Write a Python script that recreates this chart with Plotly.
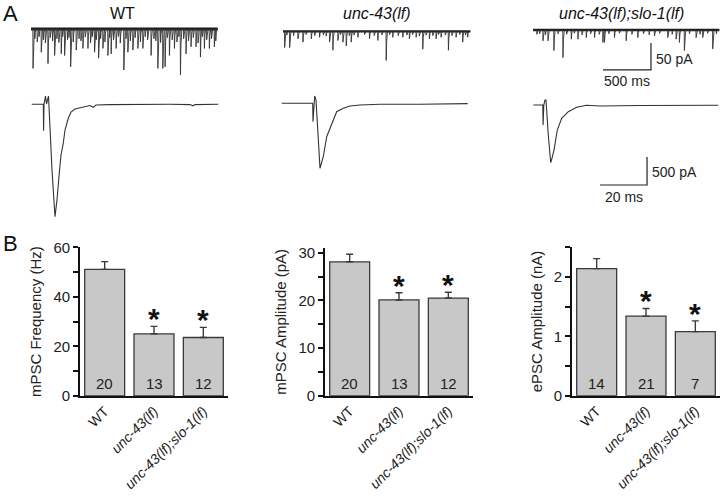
import plotly.graph_objects as go

W, H = 720, 496
FONT = "Arial, Liberation Sans, sans-serif"

# ---------------- Panel B data ----------------
genotypes = ["WT", "<i>unc-43(lf)</i>", "<i>unc-43(lf);slo-1(lf)</i>"]
mpsc_freq = [51.1, 25.1, 23.6]
mpsc_freq_sem = [3.1, 3.0, 4.1]
mpsc_amp = [28.1, 20.1, 20.5]
mpsc_amp_sem = [1.6, 1.5, 1.2]
epsc_amp = [2.14, 1.34, 1.08]
epsc_amp_sem = [0.17, 0.13, 0.18]
n_mpsc = [20, 13, 12]
n_epsc = [14, 21, 7]
significant = [False, True, True]

# ---------------- Panel A data ----------------
# spontaneous recordings: event times (ms) and amplitudes (pA)
wt_ev_t = [21, 107, 177, 246, 315, 350, 413, 471, 541, 593, 662, 704, 749, 801, 835, 887,
           967, 1009, 1061, 1113, 1165, 1251, 1321, 1373, 1397, 1442, 1494, 1557, 1615,
           1667, 1719, 1765, 1806, 1858, 1910]
wt_ev_a = [73, 43, 64, 49, 46, 49, 70, 39, 36, 36, 43, 54, 36, 49, 46, 36,
           76, 43, 39, 36, 36, 49, 73, 73, 70, 49, 36, 85, 46,
           33, 33, 52, 36, 36, 33]
wt_small_t = [40, 65, 85, 130, 150, 200, 225, 270, 290, 330, 380, 395, 440, 500, 520, 565,
              620, 640, 680, 725, 770, 820, 860, 910, 930, 990, 1035, 1085, 1140, 1190,
              1215, 1280, 1300, 1350, 1420, 1470, 1520, 1540, 1590, 1640, 1690, 1740,
              1785, 1830, 1880, 1925]
wt_small_a = [18, 24, 14, 20, 26, 16, 22, 18, 25, 14, 20, 16, 24, 18, 22, 15,
              26, 14, 20, 18, 24, 16, 20, 14, 26, 18, 22, 16, 24, 14,
              20, 18, 22, 25, 16, 20, 24, 14, 18, 22, 16, 26, 14, 20, 18, 22]
wt_end = 1945

unc_ev_t = [17, 69, 156, 208, 295, 381, 485, 520, 572, 624, 659, 711, 780, 901, 988,
            1075, 1144, 1248, 1317, 1387, 1456, 1525, 1595, 1647, 1723, 1803, 1872, 1924]
unc_ev_a = [30, 30, 14, 20, 14, 11, 20, 35, 17, 20, 27, 20, 11, 14, 17,
            54, 11, 11, 14, 11, 33, 14, 14, 11, 35, 11, 20, 11]
unc_small_t = [40, 110, 240, 330, 420, 450, 600, 690, 740, 850, 950, 1030, 1110, 1200,
               1290, 1350, 1420, 1490, 1560, 1620, 1690, 1760, 1840, 1900]
unc_small_a = [7, 8, 6, 8, 7, 9, 6, 8, 7, 6, 8, 7, 6, 8, 7, 6, 9, 7, 8, 6, 7, 8, 6, 7]
unc_end = 1952

slo_ev_t = [104, 156, 218, 312, 399, 468, 555, 641, 728, 745, 849, 971, 1092, 1265,
            1404, 1491, 1525, 1577, 1699, 1768, 1872]
slo_ev_a = [20, 20, 38, 51, 17, 17, 14, 14, 23, 23, 14, 20, 14, 11,
            14, 17, 23, 38, 14, 14, 35]
slo_small_t = [40, 70, 130, 260, 350, 430, 510, 600, 690, 790, 900, 1030, 1150, 1210,
               1320, 1450, 1630, 1740, 1820, 1910]
slo_small_a = [8, 7, 9, 7, 8, 6, 9, 7, 8, 7, 6, 8, 7, 9, 6, 8, 7, 8, 6, 7]
slo_end = 1941

# evoked responses: time (ms) and current (pA)
wt_epsc_t = [0, 4.94, 5.06, 5.23, 5.87, 6.30, 7.15, 7.57, 8.64, 9.91, 10.76, 11.74, 12.47,
             13.45, 14.17, 15.57, 16.72, 18.42, 20.55, 23.40, 24.81, 26.21, 27.36, 33.32,
             41.83, 50.34, 58.85, 67.36, 68.63, 69.48, 79.40]
wt_epsc_i = [0, 0, -471, 0, 148, 5, 148, -280, -1173, -2007, -1709, -1227, -905,
             -691, -459, -250, -138, -84, -66, -39, -21, -54, -12, -5,
             0, -5, 0, -5, -27, -5, 0]
unc_epsc_t = [0, 13.19, 13.32, 13.62, 14.04, 14.59, 15.23, 16.30, 16.94, 17.70, 19.15,
              21.28, 23.40, 26.21, 29.06, 33.32, 41.83, 58.85, 67.36, 79.14]
unc_epsc_i = [0, 0, -329, 0, 130, 60, -477, -1161, -1066, -954, -597,
              -357, -150, -89, -48, -30, -18, -18, -12, -5]
slo_epsc_t = [0, 4.04, 4.17, 4.47, 4.98, 5.40, 6.38, 7.40, 7.96, 8.81, 10.21, 12.08,
              14.89, 18.47, 22.72, 28.38, 45.40, 62.42, 78.72]
slo_epsc_i = [0, 0, -357, 0, 89, 89, -536, -1030, -947, -804, -447, -238,
              -120, -41, -5, -18, -10, -12, -5]

# scale bars (data units)
sb1_len_t, sb1_len_i = 500, 50      # ms, pA
sb2_len_t, sb2_len_i = 20, 500      # ms, pA
sb1_corner = (1229, -74)
sb2_corner = (48.4, -1429)

# ---------------- helpers ----------------
def spont_xy(ev_t, ev_a, sm_t, sm_a, t_end):
    evs = sorted(list(zip(ev_t, ev_a)) + list(zip(sm_t, sm_a)))
    xs, ys = [0], [0]
    for t, a in evs:
        xs += [t - 2, t, t + 5, t + 14]
        ys += [0, -a, -a * 0.35, 0]
    xs.append(t_end)
    ys.append(0)
    return xs, ys

fig = go.Figure()
layout = dict(width=W, height=H, margin=dict(l=0, r=0, t=0, b=0, autoexpand=False),
              paper_bgcolor="white", plot_bgcolor="rgba(0,0,0,0)",
              showlegend=False, font=dict(family=FONT, size=14, color="#222"))

def dom_x(a, b):
    return [a / W, b / W]

def dom_y(top, bottom):
    return [1 - bottom / H, 1 - top / H]

def trace_axes(n, px, py, origin, scale):
    sx, sy = scale
    ox, oy = origin
    xr = [(px[0] - ox) * sx, (px[1] - ox) * sx]
    yr = [-(py[1] - oy) * sy, -(py[0] - oy) * sy]
    layout[f"xaxis{n}"] = dict(domain=dom_x(*px), range=xr, visible=False,
                               anchor=f"y{n}", fixedrange=True, automargin=False)
    layout[f"yaxis{n}"] = dict(domain=dom_y(*py), range=yr, visible=False,
                               anchor=f"x{n}", fixedrange=True, automargin=False)

SP_SCALE = (500 / 48, 50 / 27)
EV_SCALE = (20 / 47, 500 / 28)
LC = "#1a1a1a"

# spontaneous traces
spont = [
    (4, (25, 225), (20, 84), (31, 29), wt_ev_t, wt_ev_a, wt_small_t, wt_small_a, wt_end, 3.0),
    (5, (275, 475), (20, 84), (283, 31.3), unc_ev_t, unc_ev_a, unc_small_t, unc_small_a, unc_end, 2.2),
    (6, (525, 720), (20, 88), (533, 30), slo_ev_t, slo_ev_a, slo_small_t, slo_small_a, slo_end, 2.5),
]
for n, px, py, org, et, ea, st, sa, tend, bw in spont:
    trace_axes(n, px, py, org, SP_SCALE)
    fig.add_trace(go.Scatter(x=[0, tend], y=[0, 0], mode="lines",
                             line=dict(color=LC, width=bw), xaxis=f"x{n}", yaxis=f"y{n}",
                             hoverinfo="skip"))
    xs, ys = spont_xy(et, ea, st, sa, tend)
    fig.add_trace(go.Scatter(x=xs, y=ys, mode="lines", line=dict(color="#333", width=0.9),
                             xaxis=f"x{n}", yaxis=f"y{n}", hoverinfo="skip"))

# evoked traces
evoked = [
    (7, (25, 225), (88, 225), (31.7, 104.3), wt_epsc_t, wt_epsc_i),
    (8, (275, 475), (88, 225), (281.7, 103.3), unc_epsc_t, unc_epsc_i),
    (9, (525, 720), (88, 215), (533.3, 105), slo_epsc_t, slo_epsc_i),
]
for n, px, py, org, t, i in evoked:
    trace_axes(n, px, py, org, EV_SCALE)
    fig.add_trace(go.Scatter(x=t, y=i, mode="lines", line=dict(color="#333", width=1.1),
                             xaxis=f"x{n}", yaxis=f"y{n}", hoverinfo="skip"))

# scale bars
cx, cy = sb1_corner
fig.add_trace(go.Scatter(x=[cx - sb1_len_t, cx, cx], y=[cy, cy, cy + sb1_len_i], mode="lines",
                         line=dict(color="#222", width=1.2), xaxis="x6", yaxis="y6",
                         hoverinfo="skip"))
cx2, cy2 = sb2_corner
fig.add_trace(go.Scatter(x=[cx2 - sb2_len_t, cx2, cx2], y=[cy2, cy2, cy2 + sb2_len_i],
                         mode="lines", line=dict(color="#222", width=1.2), xaxis="x9",
                         yaxis="y9", hoverinfo="skip"))

annotations = []
annotations += [
    dict(x=cx, y=cy + sb1_len_i * 0.4, xref="x6", yref="y6", text="50 pA", showarrow=False,
         xanchor="left", yanchor="middle", xshift=3, font=dict(size=14)),
    dict(x=cx - sb1_len_t / 2, y=cy, xref="x6", yref="y6", text="500 ms", showarrow=False,
         xanchor="center", yanchor="top", yshift=-1, font=dict(size=14)),
    dict(x=cx2, y=cy2 + sb2_len_i * 0.45, xref="x9", yref="y9", text="500 pA", showarrow=False,
         xanchor="left", yanchor="middle", xshift=3, font=dict(size=14)),
    dict(x=cx2 - sb2_len_t / 2, y=cy2, xref="x9", yref="y9", text="20 ms", showarrow=False,
         xanchor="center", yanchor="top", yshift=-2, font=dict(size=14)),
]

# headings
for xc, txt in [(122, "WT"), (377, "<i>unc-43(lf)</i>"), (621, "<i>unc-43(lf);slo-1(lf)</i>")]:
    annotations.append(dict(x=xc / W, y=1 - 13 / H, xref="paper", yref="paper", text=txt,
                            showarrow=False, xanchor="center", yanchor="middle",
                            font=dict(size=16, color="#111")))
annotations.append(dict(x=1 / W, y=1 - 14 / H, xref="paper", yref="paper", text="A",
                        showarrow=False, xanchor="left", yanchor="middle",
                        font=dict(size=22, color="#111")))
annotations.append(dict(x=1 / W, y=1 - 243 / H, xref="paper", yref="paper", text="B",
                        showarrow=False, xanchor="left", yanchor="middle",
                        font=dict(size=22, color="#111")))

# ---------------- Panel B bar charts ----------------
bars = [
    (1, (80, 228), (247.3, 396), [0, 60], 20, 10, mpsc_freq, mpsc_freq_sem, n_mpsc,
     "mPSC Frequency (Hz)"),
    (2, (325, 473), (248, 395.7), [0, 31], 10, 5, mpsc_amp, mpsc_amp_sem, n_mpsc,
     "mPSC Amplitude (pA)"),
    (3, (572, 720), (247.3, 395.7), [0, 2.5], 1, 0.5, epsc_amp, epsc_amp_sem, n_epsc,
     "ePSC Amplitude (nA)"),
]
cats = [0, 1, 2]
for n, px, py, yr, dt, mdt, vals, sems, ns, title in bars:
    sfx = "" if n == 1 else str(n)
    fig.add_trace(go.Bar(
        x=cats, y=vals, width=0.81, xaxis=f"x{sfx}", yaxis=f"y{sfx}",
        marker=dict(color="#c8c8c8", line=dict(color="#3a3a3a", width=1.3)),
        error_y=dict(type="data", symmetric=False, array=sems, arrayminus=[0, 0, 0],
                     color="#3a3a3a", thickness=1.4, width=3.5),
        hoverinfo="skip"))
    layout[f"xaxis{sfx}"] = dict(domain=dom_x(*px), range=[-0.5, 2.5], anchor=f"y{sfx}",
                                 tickvals=cats, ticktext=genotypes, tickangle=-45,
                                 showline=True, linecolor="#111", linewidth=1.6,
                                 ticks="", showgrid=False, zeroline=False, fixedrange=True,
                                 automargin=False, tickfont=dict(size=14, color="#222"))
    layout[f"yaxis{sfx}"] = dict(domain=dom_y(*py), range=yr, anchor=f"x{sfx}",
                                 dtick=dt, tick0=0, showline=True, linecolor="#111",
                                 linewidth=1.6, ticks="outside", ticklen=5, tickwidth=1.5,
                                 tickcolor="#111", showgrid=False, zeroline=False,
                                 minor=dict(dtick=mdt, ticks="outside", ticklen=5,
                                            tickwidth=1.5, tickcolor="#111"),
                                 fixedrange=True, automargin=False,
                                 tickfont=dict(size=15, color="#222"),
                                 title=dict(text=title, font=dict(size=15, color="#222"),
                                            standoff=8))
    for c, nval in zip(cats, ns):
        annotations.append(dict(x=c, y=0, xref=f"x{sfx}", yref=f"y{sfx}", text=str(nval),
                                showarrow=False, yanchor="bottom", yshift=2,
                                font=dict(size=15, color="#222")))
    for c, v, s, sig in zip(cats, vals, sems, significant):
        if sig:
            annotations.append(dict(x=c, y=v + s, xref=f"x{sfx}", yref=f"y{sfx}", text="<b>*</b>",
                                    showarrow=False, yanchor="bottom", yshift=-11,
                                    font=dict(size=30, color="#111")))

layout["annotations"] = annotations
fig.update_layout(**layout)
fig.write_html("out.html", config={"displayModeBar": False},
               post_script="document.body.style.margin='0';document.body.style.overflow='hidden';")
